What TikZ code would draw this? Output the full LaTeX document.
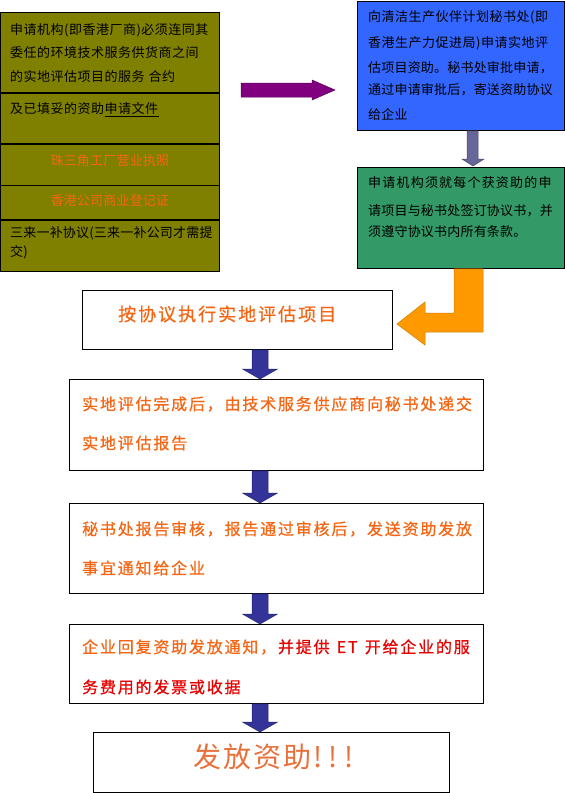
\documentclass[tikz,border=0pt]{standalone}
\usepackage{fontspec}
\setmainfont{Noto Sans CJK SC}
\newfontfamily\cjkmb[FakeBold=0.7]{Noto Sans CJK SC}
\usetikzlibrary{calc}
\definecolor{olivebg}{RGB}{128,128,0}
\definecolor{bluebg}{RGB}{51,102,255}
\definecolor{greenbg}{RGB}{51,153,102}
\definecolor{navyarr}{RGB}{51,51,153}
\definecolor{grayarr}{RGB}{102,102,153}
\definecolor{purplearr}{RGB}{128,0,128}
\definecolor{orangearr}{RGB}{255,153,0}
\definecolor{txtorange}{RGB}{245,102,20}
\definecolor{txtred}{RGB}{230,0,0}
\definecolor{bigorange}{RGB}{232,112,58}
\makeatletter
\newcommand\lsp[2]{\def\lsp@k{#1\relax}\lsp@a#2\lsp@q}
\def\lsp@q{\lsp@q}
\def\lsp@a#1{\ifx#1\lsp@q\else#1\kern\lsp@k\expandafter\lsp@a\fi}
\makeatother
\newcommand\fsz[1]{\fontsize{#1pt}{#1pt}\selectfont}
\tikzset{
  box/.style={draw=black, line width=0.8pt, inner sep=0pt, anchor=north west},
  row/.style={box, fill=olivebg, minimum width=219pt},
  txt/.style={inner sep=0pt, anchor=west},
  small/.style={txt, font=\fsz{13}},
  mid/.style={txt, font=\cjkmb\fsz{16}, text=txtorange},
  navyfill/.style={fill=navyarr, draw=navyarr!70!black, line width=0.5pt},
}
\newcommand\navyarrow[2]{%
  \filldraw[navyfill] let \p1=(#1.south), \p2=(#2.north) in
    (252pt,\y1) -- (268pt,\y1) -- (268pt,\y2+10pt) -- (277.5pt,\y2+10pt) --
    (260pt,\y2) -- (242.5pt,\y2+10pt) -- (252pt,\y2+10pt) -- cycle;}
\begin{document}
\begin{tikzpicture}[x=1pt,y=-1pt]
\useasboundingbox (0,0) rectangle (565,793);
% left olive stack
\node[row, minimum height=80pt] (l1) at (0,12) {};
\node[row, minimum height=50pt] (l2) at (l1.south west) {};
\node[row, minimum height=41pt] (l3) at (l2.south west) {};
\node[row, minimum height=34pt] (l4) at (l3.south west) {};
\node[row, minimum height=51pt] (l5) at (l4.south west) {};
\node[small] (t11) at (10,30) {\lsp{0.5pt}{申请机构(即香港厂商)必须连同其}};
\node[small] (t12) at (10,53) {\lsp{0.5pt}{委任的环境技术服务供货商之间}};
\node[small] (t13) at (10,77) {\lsp{0.5pt}{的实地评估项目的服务\ 合约}};
\node[small] (t21) at (10,110) {\lsp{0.5pt}{及已填妥的资助}\underline{\lsp{0.5pt}{申请文件}}};
\node[small, anchor=center, text=txtorange] (t31) at (110,161) {\lsp{0.2pt}{珠三角工厂营业执照}};
\node[small, anchor=center, text=txtorange] (t41) at (110,201) {\lsp{0.2pt}{香港公司商业登记证}};
\node[small] (t51) at (10,233) {\lsp{0.2pt}{三来一补协议(三来一补公司才需提}};
\node[small] (t52) at (10,252) {\lsp{0.2pt}{交)}};
% purple arrow
\filldraw[fill=purplearr, draw=purplearr!70!black, line width=0.5pt]
  (241,83) -- (312,83) -- (312,80) -- (335,90) -- (312,100) -- (312,97) -- (241,97) -- cycle;
% blue box
\node[box, fill=bluebg, minimum width=207pt, minimum height=129pt] (b1) at (357,1) {};
\node[small] (tb1) at (368,17) {\lsp{0.5pt}{向清洁生产伙伴计划秘书处(即}};
\node[small] (tb2) at (368,43) {\lsp{0.5pt}{香港生产力促进局)申请实地评}};
\node[small] (tb3) at (368,68) {\lsp{0.2pt}{估项目资助。秘书处审批申请，}};
\node[small] (tb4) at (368,90) {\lsp{0.2pt}{通过申请审批后，寄送资助协议}};
\node[small] (tb5) at (368,115) {\lsp{0.2pt}{给企业}};
% green box
\node[box, fill=greenbg, minimum width=207pt, minimum height=101pt] (g1) at (357,167) {};
\node[small] (tg1) at (368,183) {\lsp{1.2pt}{申请机构须就每个获资助的申}};
\node[small] (tg2) at (368,211) {\lsp{0.2pt}{请项目与秘书处签订协议书，并}};
\node[small] (tg3) at (368,232) {\lsp{0.2pt}{须遵守协议书内所有条款。}};
% gray arrow blue -> green
\filldraw[fill=grayarr, draw=grayarr!70!black, line width=0.5pt]
  let \p1=(b1.south), \p2=(g1.north) in
  (467pt,\y1) -- (478pt,\y1) -- (478pt,\y2+8pt) -- (484pt,\y2+8pt) -- (473pt,\y2+1pt) --
  (462pt,\y2+8pt) -- (467pt,\y2+8pt) -- cycle;
% execute box
\node[box, fill=white, minimum width=310pt, minimum height=59pt] (s1) at (82,290) {};
\node[txt, font=\cjkmb\fsz{18}, text=txtorange] (ts1) at (118,314) {\lsp{2pt}{按协议执行实地评估项目}};
% orange bent arrow green -> s1
\filldraw[fill=orangearr, draw=orangearr!80!black, line width=0.5pt]
  let \p1=(g1.south), \p2=(s1.east) in
  (454pt,\y1) -- (454pt,313) -- (425,313) -- (425,302) -- (397,324) -- (425,345) --
  (425,332) -- (483,332) -- (483pt,\y1) -- cycle;
% flow boxes
\node[box, fill=white, minimum width=414pt, minimum height=91pt] (s2) at (69,379) {};
\node[mid] (ts21) at (82,404) {\lsp{1.8pt}{实地评估完成后，由技术服务供应商向秘书处递交}};
\node[mid] (ts22) at (82,443) {\lsp{1.8pt}{实地评估报告}};
\node[box, fill=white, minimum width=414pt, minimum height=90pt] (s3) at (69,503) {};
\node[mid] (ts31) at (82,529) {\lsp{1.8pt}{秘书处报告审核，报告通过审核后，发送资助发放}};
\node[mid] (ts32) at (82,568) {\lsp{1.8pt}{事宜通知给企业}};
\node[box, fill=white, minimum width=414pt, minimum height=79pt] (s4) at (69,624) {};
\node[mid] (ts41) at (82,647) {\lsp{1.8pt}{企业回复资助发放通知，}\textcolor{txtred}{\lsp{1.8pt}{并提供\ ET\ 开给企业的服}}};
\node[mid, text=txtred] (ts42) at (82,687) {\lsp{1.8pt}{务费用的发票或收据}};
\node[box, fill=white, minimum width=356pt, minimum height=60pt] (s5) at (93,732) {};
\node[txt, font=\fsz{28}, text=bigorange] (ts5) at (193,757) {\lsp{2pt}{发放资助}\lsp{6.5pt}{!!!}};
% navy arrows
\navyarrow{s1}{s2}
\navyarrow{s2}{s3}
\navyarrow{s3}{s4}
\navyarrow{s4}{s5}
\end{tikzpicture}
\end{document}
